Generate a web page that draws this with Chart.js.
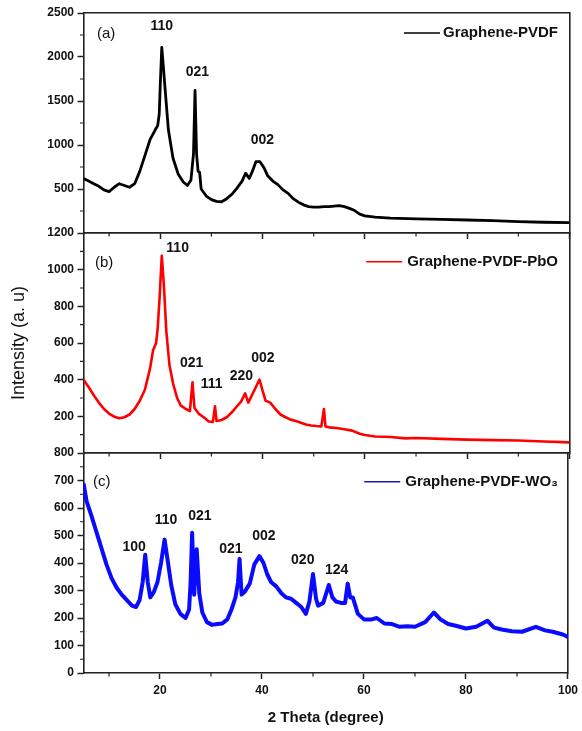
<!DOCTYPE html>
<html><head><meta charset="utf-8">
<script src="https://cdn.jsdelivr.net/npm/chart.js@4.4.1/dist/chart.umd.min.js"></script>
<style>
html,body{margin:0;padding:0;background:#fff;}
#wrap{position:relative;width:582px;height:731px;overflow:hidden;background:#fff;}
canvas{position:absolute;left:0;}
</style></head><body>
<div id="wrap">
<canvas id="ca" width="582" height="245" style="top:0px"></canvas>
<canvas id="cb" width="582" height="245" style="top:220px"></canvas>
<canvas id="cc" width="582" height="291" style="top:440px"></canvas>
</div>
<script>
// ---------- data ----------
const xMajor = [20, 40, 60, 80, 100];
const xMinor = [10, 30, 50, 70, 90];

const thetaA = [5,6,7,8,9,10,11,12,13,14,15,16,17,18,19,19.5,19.8,20.05,20.3,20.6,21,21.6,22.5,23.5,24.5,25.3,26,26.5,26.8,27.1,27.4,27.7,28,29,30,31,32,33,34,35,36,36.7,37.4,38,38.7,39.5,40.3,41,42,43,44,45,46,47,48,49,50,51,52,53,54,55,56,57,58,59,60,62,65,70,75,80,85,90,95,100];
const intA = [620,590,560,530,490,470,520,560,540,520,560,700,880,1060,1170,1220,1350,1750,2110,1900,1600,1170,850,670,580,540,600,900,1620,900,700,690,500,420,380,360,355,390,440,510,590,680,620,700,810,810,740,650,590,550,490,450,390,350,320,300,295,295,300,300,305,310,300,280,255,215,195,180,170,160,155,148,140,130,122,117];
const yTicksA = [500, 1000, 1500, 2000, 2500];
const yMinorA = [250, 750, 1250, 1750, 2250];
const peakTextA = ['110', '021', '002'];
const peakThetaA = [20.3, 27.25, 39.97];
const peakIntA = [2352, 1833, 1057];

const thetaB = [5,6,7,8,9,10,11,12,13,14,15,16,17,18,18.6,19.2,19.5,19.9,20.3,20.7,21.2,21.8,22.5,23.3,24,25,25.8,26.3,26.7,27.5,28.5,29.5,30.3,30.7,31,32,33,34,35,35.8,36.6,37.2,38,38.7,39.4,40,40.6,41.5,42.5,43.5,44.5,45.5,46.5,47.5,48.5,49.5,50.5,51.5,52,52.3,53,54.5,56,57.5,59,60,62,65,68,70,75,80,85,90,95,100];
const intB = [400,360,315,275,240,215,198,190,195,210,240,285,345,460,560,600,680,860,1075,920,660,480,380,300,260,240,228,385,245,215,195,172,170,255,175,180,195,222,255,280,325,275,320,360,400,340,285,275,240,210,195,182,175,165,155,150,147,145,240,145,140,136,130,122,105,98,90,87,80,82,77,73,70,68,63,58];
const yTicksB = [200, 400, 600, 800, 1000, 1200];
const yMinorB = [100, 300, 500, 700, 900, 1100];
const peakTextB = ['110', '021', '111', '220', '002'];
const peakThetaB = [23.4, 26.15, 30.07, 35.86, 40.05];
const peakIntB = [1118, 491, 373, 418, 518];

const thetaC = [5,5.6,6.5,7.5,8.5,9.5,10.5,11.5,12.5,13.5,14.5,15.3,16,16.6,17.1,17.6,18.1,18.8,19.5,20.2,20.9,21.5,22.2,23,24,25,25.7,26,26.3,26.7,27.2,27.7,28.3,29.2,30.2,31.2,32.2,33.2,34,34.8,35.3,35.6,36,36.6,37.6,38.5,39.5,40.3,41,41.8,42.8,43.8,44.7,45.7,46.7,47.7,48.6,49.3,50,50.6,51,52,53.1,53.8,54.5,55.5,56.3,56.8,57.3,57.8,58.8,60,61.5,62.5,64,65.5,67,68.5,70,72,73.7,75,76.5,78,80,82,84.2,85.5,87,89,91,93.7,95.5,97,99,100];
const intC = [690,625,575,515,455,395,345,310,285,265,245,240,265,330,430,330,275,295,330,400,485,410,320,250,215,200,230,330,510,285,450,290,220,185,175,178,180,195,230,275,330,415,285,295,325,395,425,400,360,330,315,290,275,270,255,240,215,260,360,270,245,255,320,275,260,255,255,325,275,275,215,195,195,200,180,178,168,170,168,185,220,195,178,172,162,168,190,165,158,152,150,168,155,150,140,131];
const yTicksC = [0, 100, 200, 300, 400, 500, 600, 700, 800];
const yMinorC = [50, 150, 250, 350, 450, 550, 650, 750];
const peakTextC = ['100', '110', '021', '021', '002', '020', '124'];
const peakThetaC = [14.92, 21.18, 27.84, 33.9, 40.36, 47.99, 54.63];
const peakIntC = [459, 557, 571, 451, 496, 411, 374];

// ---------- styling / helpers ----------
Chart.defaults.font.family = "'Liberation Sans', Arial, sans-serif";
Chart.defaults.color = '#111';
const AX = '#222';

const minorTickPlugin = {
  id: 'minorTicks',
  afterDraw(chart, args, o) {
    const {ctx, chartArea: a, scales} = chart;
    ctx.save();
    ctx.strokeStyle = AX; ctx.lineWidth = 1.2;
    ctx.beginPath();
    (o.y || []).forEach(v => { const py = scales.y.getPixelForValue(v); ctx.moveTo(a.left, py); ctx.lineTo(a.left - 3.5, py); });
    (o.x || []).forEach(v => { const px = scales.x.getPixelForValue(v); ctx.moveTo(px, a.bottom); ctx.lineTo(px, a.bottom + 3.5); });
    ctx.stroke();
    ctx.restore();
  }
};

const textPlugin = {
  id: 'xrdText',
  afterDatasetsDraw(chart, args, o) {
    const {ctx, chartArea: a, scales: {x, y}} = chart;
    const ds = chart.data.datasets[0];
    ctx.save();
    ctx.fillStyle = '#111';
    ctx.textBaseline = 'middle';
    ctx.font = "15px 'Liberation Sans', Arial, sans-serif";
    ctx.textAlign = 'left';
    ctx.fillText(o.panel, o.panelX, a.top + o.panelDy);
    ctx.font = "bold 14px 'Liberation Sans', Arial, sans-serif";
    ctx.textAlign = 'center';
    o.peakText.forEach((t, i) => ctx.fillText(t, x.getPixelForValue(o.peakX[i]), y.getPixelForValue(o.peakY[i])));
    ctx.font = "bold 15px 'Liberation Sans', Arial, sans-serif";
    ctx.textAlign = 'right';
    const ly = a.top + o.legendDy;
    const right = 558;
    ctx.fillText(ds.label, right, ly);
    const w = ctx.measureText(ds.label).width;
    ctx.strokeStyle = o.legendColor; ctx.lineWidth = 1.6;
    ctx.beginPath();
    ctx.moveTo(right - w - o.gap - 36, ly); ctx.lineTo(right - w - o.gap, ly);
    ctx.stroke();
    ctx.restore();
  }
};

function makeChart(id, c) {
  return new Chart(document.getElementById(id), {
    type: 'line',
    data: { datasets: [{
      label: c.label,
      data: c.theta.map((t, i) => ({x: t, y: c.vals[i]})),
      borderColor: c.color, borderWidth: c.lw, pointRadius: 0, tension: 0, fill: false, borderJoinStyle: 'round'
    }]},
    options: {
      responsive: false, animation: false, devicePixelRatio: 1,
      layout: {padding: {top: 13, right: 12.5, left: 0, bottom: 0}},
      plugins: {
        legend: {display: false}, tooltip: {enabled: false},
        minorTicks: {y: c.yMinor, x: xMinor},
        xrdText: {panel: c.panel, panelX: c.panelX, panelDy: c.panelDy, legendDy: c.legendDy, gap: c.gap, legendColor: c.legendColor,
                  peakText: c.peakText, peakX: c.peakX, peakY: c.peakY}
      },
      scales: {
        x: {
          type: 'linear', position: 'bottom', min: 5, max: 100,
          afterBuildTicks: s => { s.ticks = xMajor.map(v => ({value: v})); },
          afterFit: s => { s.height = c.xh; },
          grid: {drawOnChartArea: false, drawTicks: true, tickLength: 6, tickWidth: 1.5, tickColor: AX},
          border: {display: true, color: AX, width: 1.6},
          ticks: {display: c.xLabels, padding: 4, color: '#111', font: {size: 12, weight: 'bold'}, maxRotation: 0, callback: v => String(v)},
          title: {display: c.xLabels, text: '2 Theta (degree)', color: '#111', font: {size: 15, weight: 'bold'}, padding: {top: 0, bottom: 4}}
        },
        xTop: {
          type: 'linear', position: 'top', min: 5, max: 100,
          grid: {display: false, drawTicks: false}, ticks: {display: false},
          border: {display: true, color: AX, width: 1.6}
        },
        y: {
          type: 'linear', position: 'left', min: c.ymin, max: c.ymax,
          afterBuildTicks: s => { s.ticks = c.yTicks.map(v => ({value: v})); },
          afterFit: s => { s.width = 83.5; },
          grid: {drawOnChartArea: false, drawTicks: true, tickLength: 6, tickWidth: 1.5, tickColor: AX},
          border: {display: true, color: AX, width: 1.6},
          ticks: {padding: 3.5, color: '#111', font: {size: 12, weight: 'bold'}, callback: v => String(v)},
          title: {display: c.yTitle, text: 'Intensity (a. u)', color: '#111', font: {size: 18, weight: 'normal'}, padding: {top: 8, bottom: 0}}
        },
        yRight: {
          type: 'linear', position: 'right', min: 0, max: 1,
          grid: {display: false, drawTicks: false}, ticks: {display: false},
          border: {display: true, color: AX, width: 1.6}
        }
      }
    },
    plugins: [minorTickPlugin, textPlugin]
  });
}

makeChart('ca', {
  label: 'Graphene-PVDF', theta: thetaA, vals: intA, color: '#000000', legendColor: '#000000', lw: 2.8,
  ymin: 0, ymax: 2500, yTicks: yTicksA, yMinor: yMinorA, xh: 12, xLabels: false, yTitle: false,
  panel: '(a)', panelX: 97, panelDy: 21, legendDy: 20, gap: 3,
  peakText: peakTextA, peakX: peakThetaA, peakY: peakIntA
});
makeChart('cb', {
  label: 'Graphene-PVDF-PbO', theta: thetaB, vals: intB, color: '#ff0000', legendColor: '#ff0000', lw: 2.6,
  ymin: 0, ymax: 1200, yTicks: yTicksB, yMinor: yMinorB, xh: 12, xLabels: false, yTitle: true,
  panel: '(b)', panelX: 95, panelDy: 30, legendDy: 28.7, gap: 5,
  peakText: peakTextB, peakX: peakThetaB, peakY: peakIntB
});
makeChart('cc', {
  label: 'Graphene-PVDF-WO\u2083', theta: thetaC, vals: intC, color: '#0a0aff', legendColor: '#1a1aa8', lw: 4,
  ymin: 0, ymax: 800, yTicks: yTicksC, yMinor: yMinorC, xh: 58, xLabels: true, yTitle: false,
  panel: '(c)', panelX: 93, panelDy: 28.5, legendDy: 28.7, gap: 5,
  peakText: peakTextC, peakX: peakThetaC, peakY: peakIntC
});
</script>
</body></html>
